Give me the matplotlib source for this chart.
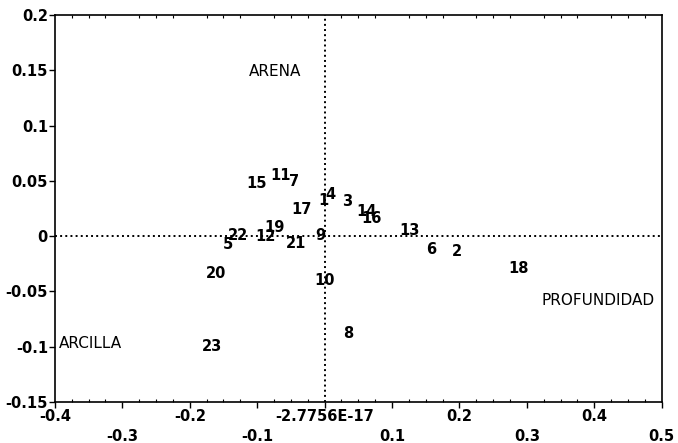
import numpy as np
import matplotlib
matplotlib.use('Agg')
import matplotlib.pyplot as plt

# sample scores (labels only, no markers)
sample_ids = ['1', '2', '3', '4', '5', '6', '7', '8', '9', '10', '11', '12',
              '13', '14', '15', '16', '17', '18', '19', '20', '21', '22', '23']
sample_x = [-0.001, 0.196, 0.034, 0.009, -0.143, 0.158, -0.045, 0.035, -0.007, 0.000,
            -0.065, -0.087, 0.126, 0.062, -0.101, 0.070, -0.035, 0.288, -0.075, -0.161,
            -0.043, -0.128, -0.167]
sample_y = [0.032, -0.014, 0.031, 0.038, -0.008, -0.012, 0.049, -0.088, 0.001, -0.040,
            0.055, 0.000, 0.005, 0.022, 0.048, 0.016, 0.024, -0.029, 0.008, -0.034,
            -0.0065, 0.0004, -0.100]

# variable names
var_names = ['ARENA', 'PROFUNDIDAD', 'ARCILLA']
var_x = [-0.074, 0.322, -0.394]
var_y = [0.149, -0.058, -0.097]
var_ha = ['center', 'left', 'left']

xticks = [-0.4, -0.3, -0.2, -0.1, 0.0, 0.1, 0.2, 0.3, 0.4, 0.5]
xtick_labels = ['-0.4', '-0.3', '-0.2', '-0.1', '-2.7756E-17',
                '0.1', '0.2', '0.3', '0.4', '0.5']
yticks = [-0.15, -0.1, -0.05, 0.0, 0.05, 0.1, 0.15, 0.2]
ytick_labels = ['-0.15', '-0.1', '-0.05', '0', '0.05', '0.1', '0.15', '0.2']

plt.rcParams['font.family'] = ['DejaVu Sans']

fig = plt.figure(figsize=(6.78, 4.43), dpi=100)
fig.patch.set_facecolor('white')
ax = fig.add_axes([0.081, 0.0926, 0.895, 0.8736])

ax.set_xlim(-0.4, 0.5)
ax.set_ylim(-0.15, 0.2)

ax.axhline(0, color='black', linestyle=':', linewidth=1.4)
ax.axvline(0, color='black', linestyle=':', linewidth=1.4)

for lab, x, y in zip(sample_ids, sample_x, sample_y):
    ax.text(x, y, lab, ha='center', va='center', fontsize=10.5, fontweight='bold')

for name, x, y, ha in zip(var_names, var_x, var_y, var_ha):
    ax.text(x, y, name, ha=ha, va='center', fontsize=11)

# alternate the x tick labels on two rows
labels2 = [l if i % 2 == 0 else '\n' + l for i, l in enumerate(xtick_labels)]
ax.set_xticks(xticks)
ax.set_xticklabels(labels2, fontsize=10.5, fontweight='bold')
for t in ax.get_xticklabels():
    t.set_linespacing(1.45)
ax.set_yticks(yticks)
ax.set_yticklabels(ytick_labels, fontsize=10.5, fontweight='bold')

ax.set_xticks(np.arange(-0.4, 0.5001, 0.025), minor=True)
ax.tick_params(axis='both', which='major', direction='out', length=4, width=1.0, pad=1)
ax.tick_params(axis='x', which='minor', direction='in', length=2, width=0.8,
               top=True, bottom=True)

for spine in ax.spines.values():
    spine.set_linewidth(1.2)

fig.savefig('out.png', dpi=100)
